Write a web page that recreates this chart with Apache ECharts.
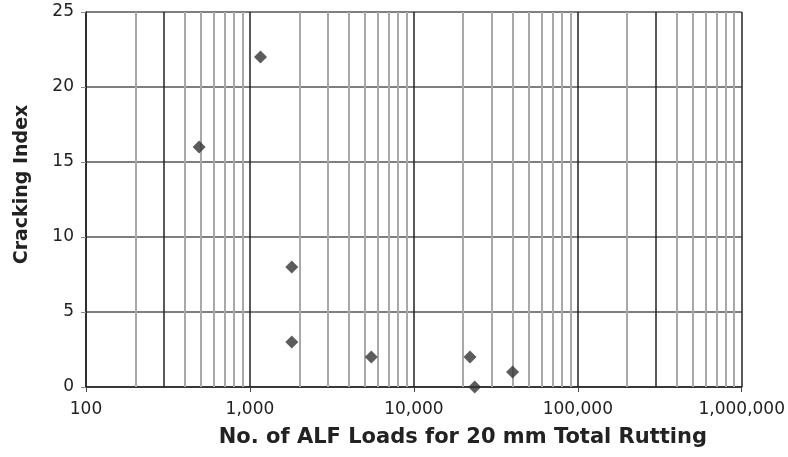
<!DOCTYPE html>
<html>
<head>
<meta charset="utf-8">
<script src="https://cdn.jsdelivr.net/npm/echarts@6/dist/echarts.min.js"></script>
<style>
  html, body { margin: 0; padding: 0; background: #fff; }
  #chart { width: 788px; height: 457px; }
</style>
</head>
<body>
<div id="chart"></div>
<script>
// ALF loads to 20 mm rutting vs cracking index
var loads = [490, 1160, 1800, 1800, 5500, 22000, 23500, 40000];
var crackIndex = [16, 22, 8, 3, 2, 2, 0, 1];
var yTicks = [0, 5, 10, 15, 20, 25];

// log grid: minor lines at 2..9 x each decade
var minorLines = [];
[100, 1000, 10000, 100000].forEach(function (d) {
  for (var k = 2; k <= 9; k++) {
    if (k !== 3) minorLines.push(d * k);
  }
});
// the 3x lines are drawn darker at both ends of the range
var darkLines = [300, 300000];
var grayThrees = [3000, 30000];

var points = loads.map(function (x, i) { return [x, crackIndex[i]]; });

var myChart = echarts.init(document.getElementById("chart"));
myChart.setOption({
  animation: false,
  grid: { left: 86, right: 43, top: 12, bottom: 70 },
  textStyle: { fontFamily: "DejaVu Sans" },
  xAxis: {
    type: "log",
    logBase: 10,
    min: 100,
    max: 1000000,
    name: "No. of ALF Loads for 20 mm Total Rutting",
    nameLocation: "middle",
    nameGap: 40,
    nameTextStyle: {
      fontSize: 21, fontWeight: "bold", color: "#222",
      fontFamily: "DejaVu Sans", padding: [0, 0, 0, 98]
    },
    axisLine: { show: true, lineStyle: { color: "#222", width: 1.5 } },
    axisTick: { show: true, length: 5, lineStyle: { color: "#444" } },
    axisLabel: {
      color: "#222", fontSize: 17, margin: 14,
      formatter: function (v) { return Math.round(v).toLocaleString("en-US"); }
    },
    splitLine: { show: true, lineStyle: { color: "#222", width: 1.5 } }
  },
  yAxis: {
    type: "value",
    min: 0,
    max: 25,
    interval: 5,
    name: "Cracking Index",
    nameLocation: "middle",
    nameGap: 54,
    nameTextStyle: {
      fontSize: 19, fontWeight: "bold", color: "#222",
      fontFamily: "DejaVu Sans", padding: [0, 0, 0, 30]
    },
    axisLine: { show: true, lineStyle: { color: "#222", width: 1.5 } },
    axisTick: { show: true, length: 5, lineStyle: { color: "#888" } },
    axisLabel: { color: "#222", fontSize: 17, margin: 12 },
    splitLine: { show: true, lineStyle: { color: "#555", width: 1.5 } }
  },
  series: [
    {
      type: "scatter",
      data: [],
      z: 1,
      markLine: {
        silent: true,
        symbol: "none",
        animation: false,
        label: { show: false },
        lineStyle: { color: "#a8a8a8", width: 2, type: "solid" },
        data: minorLines.concat(grayThrees).map(function (v) { return { xAxis: v }; })
          .concat(darkLines.map(function (v) {
            return { xAxis: v, lineStyle: { color: "#222", width: 1.5 } };
          }))
      }
    },
    {
      type: "scatter",
      symbol: "diamond",
      symbolSize: 13,
      z: 5,
      itemStyle: { color: "#333" },
      data: points
    }
  ]
});
</script>
</body>
</html>
